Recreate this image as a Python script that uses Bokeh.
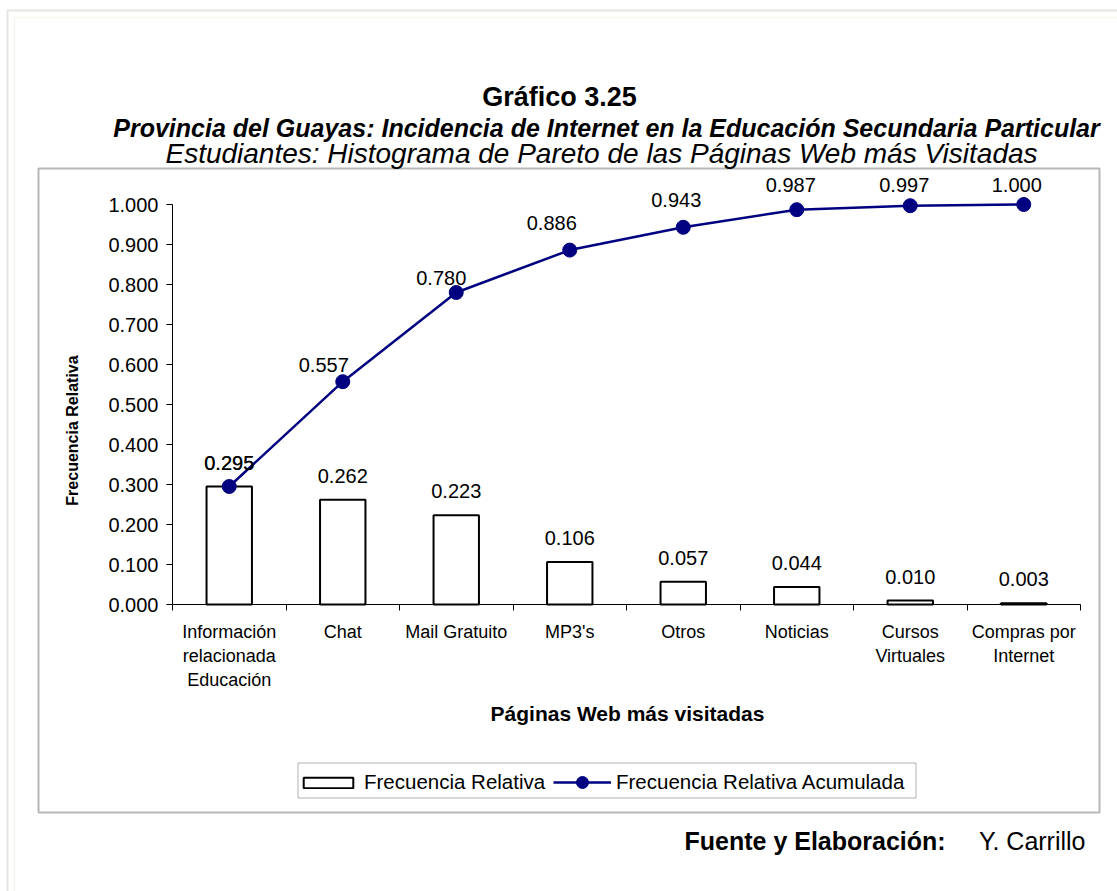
import math
from bokeh.plotting import figure
from bokeh.models import (Range1d, FixedTicker, NumeralTickFormatter, LabelSet, Label,
                          Legend, LegendItem, ColumnDataSource, BoxAnnotation)
from bokeh.core.properties import value
from bokeh.embed import file_html
from bokeh.resources import INLINE

# ---------------- data ----------------
categories = ["Información\nrelacionada\nEducación", "Chat", "Mail Gratuito", "MP3's",
              "Otros", "Noticias", "Cursos\nVirtuales", "Compras por\nInternet"]
freq_rel = [0.295, 0.262, 0.223, 0.106, 0.057, 0.044, 0.010, 0.003]
freq_acum = [0.295, 0.557, 0.780, 0.886, 0.943, 0.987, 0.997, 1.000]
y_ticks = [0.0, 0.1, 0.2, 0.3, 0.4, 0.5, 0.6, 0.7, 0.8, 0.9, 1.0]

title1 = "Gráfico 3.25"
title2 = "Provincia del Guayas: Incidencia de Internet en la Educación Secundaria Particular"
title3 = "Estudiantes: Histograma de Pareto de las Páginas Web más Visitadas"
x_title = "Páginas Web más visitadas"
y_title = "Frecuencia Relativa"
series_names = ["Frecuencia Relativa", "Frecuencia Relativa Acumulada"]
source_bold = "Fuente y Elaboración:"
source_text = "Y. Carrillo"

# label nudges (pixels) for the cumulative series labels
cum_dx = [0, -19, -15, -18, -7, -6, -6, -7]
cum_dy = [24, 17, 15, 27, 27, 25, 21, 20]

# ---------------- layout (pixels) ----------------
FONT = "Liberation Sans"
NAVY = "#000080"
W, H = 1117, 891
PLOT_L, PLOT_R = 172, 1080      # x-axis extent
Y0_PX, Y1_PX = 604, 204         # pixel rows of 0.0 and 1.0

n = len(categories)
xc = [i + 0.5 for i in range(n)]
bounds = [float(i) for i in range(n + 1)]

px_per_x = (PLOT_R - PLOT_L) / n
px_per_y = (Y0_PX - Y1_PX) / 1.0
x_range = Range1d(-PLOT_L / px_per_x, n + (W - PLOT_R) / px_per_x)
y_range = Range1d(-(H - Y0_PX) / px_per_y, Y0_PX / px_per_y)

p = figure(width=W, height=H, output_backend="svg", toolbar_location=None,
           x_range=x_range, y_range=y_range, min_border=0)
p.outline_line_color = None
p.xgrid.visible = False
p.ygrid.visible = False
p.background_fill_color = "white"
p.border_fill_color = "white"

# ---- axes ----
xa = p.xaxis[0]
xa.fixed_location = 0
xa.bounds = (0, n)
xa.ticker = FixedTicker(ticks=xc, minor_ticks=bounds)
xa.major_label_overrides = {x: c for x, c in zip(xc, categories)}
xa.major_tick_line_color = None
xa.major_tick_out = 0
xa.major_tick_in = 0
xa.minor_tick_line_color = "black"
xa.minor_tick_out = 6
xa.minor_tick_in = 0
xa.axis_line_color = "black"
xa.major_label_text_font = FONT
xa.major_label_text_font_size = "18px"
xa.major_label_text_color = "black"
xa.major_label_standoff = 11

ya = p.yaxis[0]
ya.fixed_location = 0
ya.bounds = (0, 1)
ya.ticker = FixedTicker(ticks=y_ticks, minor_ticks=[])
ya.formatter = NumeralTickFormatter(format="0.000")
ya.axis_line_color = "black"
ya.major_tick_line_color = "black"
ya.major_tick_out = 6
ya.major_tick_in = 0
ya.minor_tick_line_color = None
ya.major_label_text_font = FONT
ya.major_label_text_font_size = "20px"
ya.major_label_text_color = "black"
ya.major_label_standoff = 8

# ---- frames ----
def frame_box(l, t, r, b, color, width, level="underlay"):
    p.add_layout(BoxAnnotation(left=l, right=r, top=t, bottom=b,
                               left_units="canvas", right_units="canvas",
                               top_units="canvas", bottom_units="canvas",
                               fill_color=None, line_color=color, line_width=width,
                               level=level))

frame_box(7, 10, W + 20, H + 20, "#a8a898", 2)
frame_box(14, 17, W + 20, H + 20, "#eceada", 2)
frame_box(38, 168, 1099, 812, "#111111", 2)
frame_box(297.5, 762.5, 915.5, 797.5, "black", 1, "annotation")   # legend border

# ---- glyphs ----
src = ColumnDataSource(dict(
    x=xc, rel=freq_rel, cum=freq_acum,
    rel_txt=[f"{v:.3f}" for v in freq_rel],
    cum_txt=[f"{v:.3f}" for v in freq_acum],
    dx=cum_dx, dy=cum_dy))

bars = p.vbar(x="x", top="rel", bottom=0, width=0.4, source=src,
              fill_color="white", line_color="black", line_width=2)
ln = p.line(x="x", y="cum", source=src, line_color=NAVY, line_width=2.5)
pts = p.scatter(x="x", y="cum", source=src, size=14, marker="circle",
                fill_color=NAVY, line_color=NAVY)

p.add_layout(LabelSet(x="x", y="rel", text="rel_txt", source=src, y_offset=24,
                      text_align="center", text_baseline="middle",
                      text_font=value(FONT), text_font_size=value("20px"),
                      text_color="black"))
p.add_layout(LabelSet(x="x", y="cum", text="cum_txt", source=src,
                      x_offset="dx", y_offset="dy",
                      text_align="center", text_baseline="middle",
                      text_font=value(FONT), text_font_size=value("20px"),
                      text_color="black"))

# ---- legend (two parts sharing one border) ----
leg_common = dict(orientation="horizontal", border_line_color=None,
                  background_fill_alpha=0, label_text_font=FONT,
                  label_text_font_size="20.5px", label_text_color="black",
                  label_standoff=5, spacing=0, padding=3, margin=0)
legend_a = Legend(items=[LegendItem(label=series_names[0], renderers=[bars])],
                  location=(297, H - 794), glyph_width=62, glyph_height=13, **leg_common)
legend_b = Legend(items=[LegendItem(label=series_names[1], renderers=[ln, pts])],
                  location=(553, H - 797), glyph_width=58, glyph_height=30, **leg_common)
p.add_layout(legend_a)
p.add_layout(legend_b)

# ---- titles and texts ----
def add_label(x, y, text, size, style="normal", align="center", angle=0.0):
    p.add_layout(Label(x=x, y=y, x_units="canvas", y_units="canvas", text=text,
                       text_font=FONT, text_font_size=size, text_font_style=style,
                       text_align=align, text_baseline="middle", text_color="black",
                       angle=angle))

add_label(559, 96, title1, "27px", "bold")
add_label(606, 127, title2, "25px", "bold italic")
add_label(601, 153, title3, "28px", "italic")
add_label(72, 430, y_title, "16px", "bold", angle=math.pi / 2)
add_label(627, 713, x_title, "21px", "bold")
add_label(684, 840, source_bold, "25px", "bold", align="left")
add_label(1085, 840, source_text, "25px", "normal", align="right")

open("out.html", "w").write(file_html(p, INLINE))
